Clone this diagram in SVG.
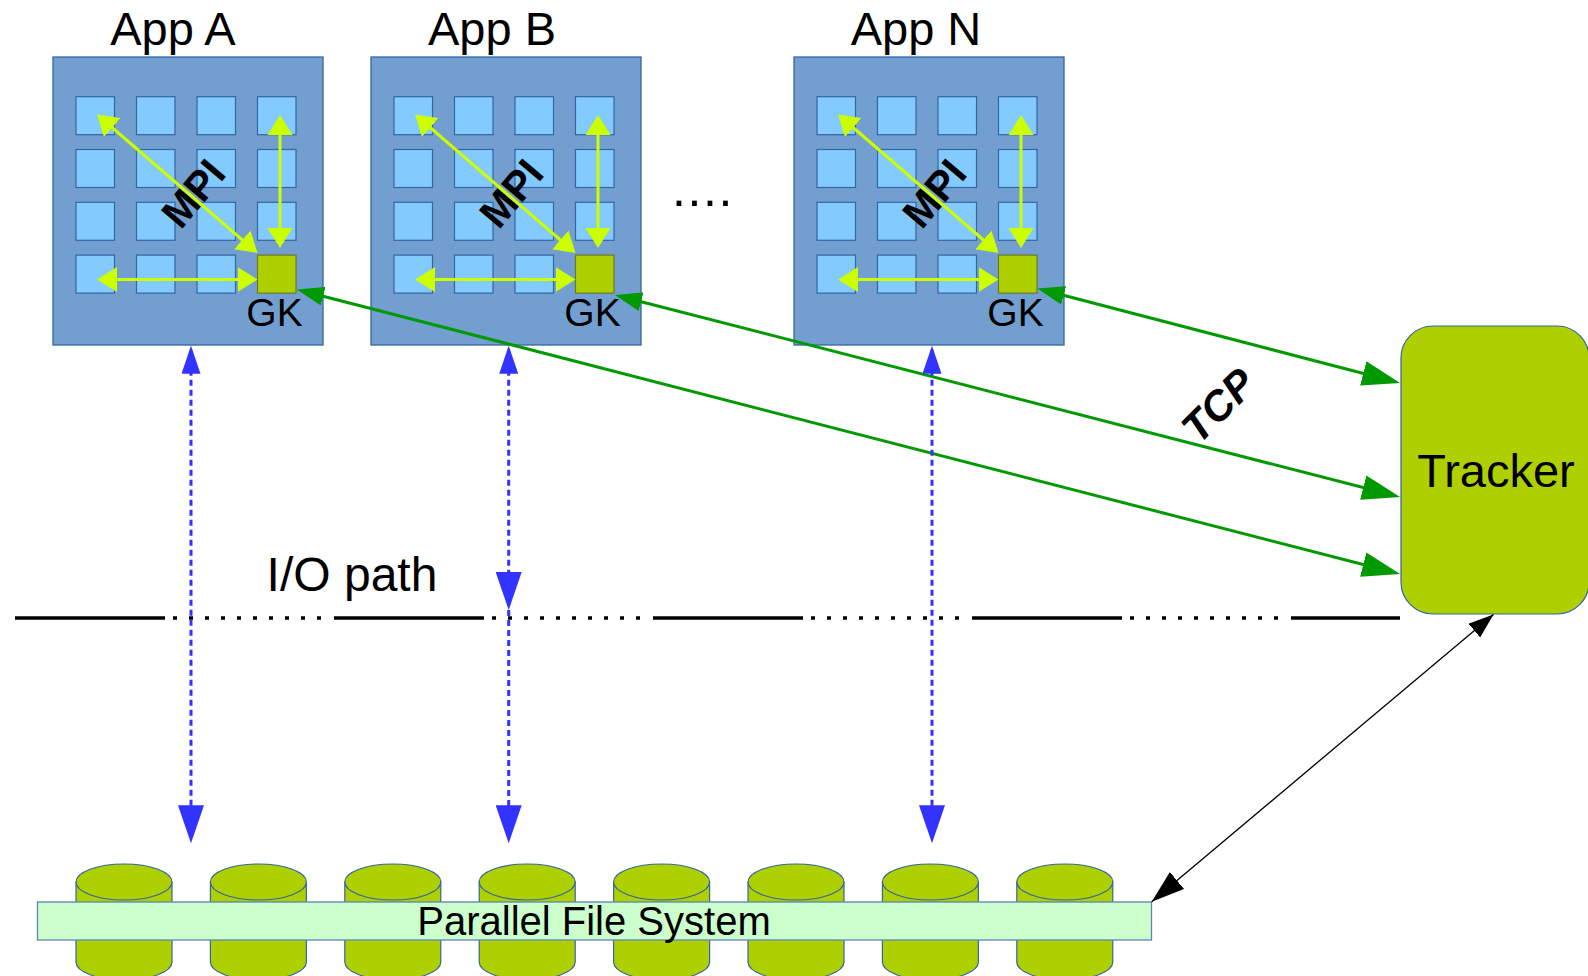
<svg xmlns="http://www.w3.org/2000/svg" width="1588" height="976" viewBox="0 0 1588 976">
  <style>
    .box { fill: #729fcf; stroke: #3465a4; stroke-width: 1.3; }
    .cell { fill: #83caff; stroke: #3465a4; stroke-width: 1.2; }
    .gk { fill: #afd000; stroke: #6a7a20; stroke-width: 1.2; }
    .mpi { fill: none; stroke: #ccff00; stroke-width: 3; }
    .tcp { fill: none; stroke: #009900; stroke-width: 3; }
    .io { fill: none; stroke: #3333ff; stroke-width: 3; stroke-dasharray: 6 4; }
    .ctl { fill: none; stroke: #000; stroke-width: 1.3; }
    .path-line { fill: none; stroke: #000; stroke-width: 3.3; stroke-dasharray: 150 8 4 12 4 12 4 12 4 12 4 12 4 12 4 12 4 12 4 12 4 13; }
    .disk { fill: #afd000; stroke: #3465a4; stroke-width: 1.2; }
    .pfs { fill: #ccffcc; stroke: #5b85b8; stroke-width: 1.3; }
    .tracker { fill: #afd000; stroke: #3465a4; stroke-width: 1.2; }
    text { font-family: "Liberation Sans", Arial, sans-serif; fill: #000; }
    .title { font-size: 47px; text-anchor: middle; }
    .gklabel { font-size: 39px; text-anchor: middle; }
    .mpilabel { font-size: 41px; font-weight: bold; text-anchor: middle; }
    .tcplabel { font-size: 42px; font-weight: bold; font-style: italic; text-anchor: middle; }
  </style>
  <defs>
    <marker id="yhead" markerUnits="userSpaceOnUse" markerWidth="20" markerHeight="25" viewBox="0 0 20 25" refX="17" refY="12.5" orient="auto-start-reverse">
      <path d="M0,0 L20,12.5 L0,25 Z" fill="#ccff00"/>
    </marker>
    <marker id="ghead-big" markerUnits="userSpaceOnUse" markerWidth="38" markerHeight="25" viewBox="0 0 38 25" refX="33" refY="12.5" orient="auto-start-reverse">
      <path d="M0,0 L38,12.5 L0,25 Z" fill="#009900"/>
    </marker>
    <marker id="ghead-small" markerUnits="userSpaceOnUse" markerWidth="27" markerHeight="19" viewBox="0 0 27 19" refX="22" refY="9.5" orient="auto-start-reverse">
      <path d="M0,0 L27,9.5 L0,19 Z" fill="#009900"/>
    </marker>
    <marker id="bhead-small" markerUnits="userSpaceOnUse" markerWidth="28" markerHeight="19" viewBox="0 0 28 19" refX="24" refY="9.5" orient="auto-start-reverse">
      <path d="M0,0 L28,9.5 L0,19 Z" fill="#3333ff"/>
    </marker>
    <marker id="bhead-big" markerUnits="userSpaceOnUse" markerWidth="38" markerHeight="26" viewBox="0 0 38 26" refX="34" refY="13" orient="auto-start-reverse">
      <path d="M0,0 L38,13 L0,26 Z" fill="#3333ff"/>
    </marker>
    <marker id="khead-big" markerUnits="userSpaceOnUse" markerWidth="33" markerHeight="22" viewBox="0 0 33 22" refX="33" refY="11" orient="auto-start-reverse">
      <path d="M0,0 L33,11 L0,22 Z" fill="#000"/>
    </marker>
    <marker id="khead-small" markerUnits="userSpaceOnUse" markerWidth="25" markerHeight="18" viewBox="0 0 25 18" refX="25" refY="9" orient="auto-start-reverse">
      <path d="M0,0 L25,9 L0,18 Z" fill="#000"/>
    </marker>
  </defs>

  <rect width="1588" height="976" fill="#fff"/>

  <!-- I/O path boundary -->
  <g id="io-path">
    <path class="path-line" d="M15,618 H1400"/>
    <text x="352" y="591" font-size="48" text-anchor="middle">I/O path</text>
  </g>

  <!-- Application A -->
  <g id="app-a" transform="translate(53,57)">
    <text class="title" x="120" y="-12">App A</text>
    <rect class="box" x="0" y="0" width="270" height="288"/>
    <rect class="cell" x="23" y="39.7" width="38.5" height="38"/>
    <rect class="cell" x="83.5" y="39.7" width="38.5" height="38"/>
    <rect class="cell" x="144" y="39.7" width="38.5" height="38"/>
    <rect class="cell" x="204.5" y="39.7" width="38.5" height="38"/>
    <rect class="cell" x="23" y="92.5" width="38.5" height="38"/>
    <rect class="cell" x="83.5" y="92.5" width="38.5" height="38"/>
    <rect class="cell" x="144" y="92.5" width="38.5" height="38"/>
    <rect class="cell" x="204.5" y="92.5" width="38.5" height="38"/>
    <rect class="cell" x="23" y="145.3" width="38.5" height="38"/>
    <rect class="cell" x="83.5" y="145.3" width="38.5" height="38"/>
    <rect class="cell" x="144" y="145.3" width="38.5" height="38"/>
    <rect class="cell" x="204.5" y="145.3" width="38.5" height="38"/>
    <rect class="cell" x="23" y="198.1" width="38.5" height="38"/>
    <rect class="cell" x="83.5" y="198.1" width="38.5" height="38"/>
    <rect class="cell" x="144" y="198.1" width="38.5" height="38"/>
    <rect class="gk" x="204.5" y="198.1" width="38.5" height="38"/>
    <text class="mpilabel" transform="translate(140,136) rotate(-50)" x="0" y="14.7">MPI</text>
    <path class="mpi" d="M46.3,59.5 L202.2,194" marker-start="url(#yhead)" marker-end="url(#yhead)"/>
    <path class="mpi" d="M227,61 V188" marker-start="url(#yhead)" marker-end="url(#yhead)"/>
    <path class="mpi" d="M47,222.5 H201.5" marker-start="url(#yhead)" marker-end="url(#yhead)"/>
    <text class="gklabel" x="221.5" y="268.5">GK</text>
  </g>

  <!-- Application B -->
  <g id="app-b" transform="translate(371,57)">
    <text class="title" x="121" y="-12">App B</text>
    <rect class="box" x="0" y="0" width="270" height="288"/>
    <rect class="cell" x="23" y="39.7" width="38.5" height="38"/>
    <rect class="cell" x="83.5" y="39.7" width="38.5" height="38"/>
    <rect class="cell" x="144" y="39.7" width="38.5" height="38"/>
    <rect class="cell" x="204.5" y="39.7" width="38.5" height="38"/>
    <rect class="cell" x="23" y="92.5" width="38.5" height="38"/>
    <rect class="cell" x="83.5" y="92.5" width="38.5" height="38"/>
    <rect class="cell" x="144" y="92.5" width="38.5" height="38"/>
    <rect class="cell" x="204.5" y="92.5" width="38.5" height="38"/>
    <rect class="cell" x="23" y="145.3" width="38.5" height="38"/>
    <rect class="cell" x="83.5" y="145.3" width="38.5" height="38"/>
    <rect class="cell" x="144" y="145.3" width="38.5" height="38"/>
    <rect class="cell" x="204.5" y="145.3" width="38.5" height="38"/>
    <rect class="cell" x="23" y="198.1" width="38.5" height="38"/>
    <rect class="cell" x="83.5" y="198.1" width="38.5" height="38"/>
    <rect class="cell" x="144" y="198.1" width="38.5" height="38"/>
    <rect class="gk" x="204.5" y="198.1" width="38.5" height="38"/>
    <text class="mpilabel" transform="translate(140,136) rotate(-50)" x="0" y="14.7">MPI</text>
    <path class="mpi" d="M46.3,59.5 L202.2,194" marker-start="url(#yhead)" marker-end="url(#yhead)"/>
    <path class="mpi" d="M227,61 V188" marker-start="url(#yhead)" marker-end="url(#yhead)"/>
    <path class="mpi" d="M47,222.5 H201.5" marker-start="url(#yhead)" marker-end="url(#yhead)"/>
    <text class="gklabel" x="221.5" y="268.5">GK</text>
  </g>

  <!-- ellipsis between applications -->
  <text id="more-apps" x="672" y="206" font-size="50" letter-spacing="1.6">....</text>

  <!-- Application N -->
  <g id="app-n" transform="translate(794,57)">
    <text class="title" x="122" y="-12">App N</text>
    <rect class="box" x="0" y="0" width="270" height="288"/>
    <rect class="cell" x="23" y="39.7" width="38.5" height="38"/>
    <rect class="cell" x="83.5" y="39.7" width="38.5" height="38"/>
    <rect class="cell" x="144" y="39.7" width="38.5" height="38"/>
    <rect class="cell" x="204.5" y="39.7" width="38.5" height="38"/>
    <rect class="cell" x="23" y="92.5" width="38.5" height="38"/>
    <rect class="cell" x="83.5" y="92.5" width="38.5" height="38"/>
    <rect class="cell" x="144" y="92.5" width="38.5" height="38"/>
    <rect class="cell" x="204.5" y="92.5" width="38.5" height="38"/>
    <rect class="cell" x="23" y="145.3" width="38.5" height="38"/>
    <rect class="cell" x="83.5" y="145.3" width="38.5" height="38"/>
    <rect class="cell" x="144" y="145.3" width="38.5" height="38"/>
    <rect class="cell" x="204.5" y="145.3" width="38.5" height="38"/>
    <rect class="cell" x="23" y="198.1" width="38.5" height="38"/>
    <rect class="cell" x="83.5" y="198.1" width="38.5" height="38"/>
    <rect class="cell" x="144" y="198.1" width="38.5" height="38"/>
    <rect class="gk" x="204.5" y="198.1" width="38.5" height="38"/>
    <text class="mpilabel" transform="translate(140,136) rotate(-50)" x="0" y="14.7">MPI</text>
    <path class="mpi" d="M46.3,59.5 L202.2,194" marker-start="url(#yhead)" marker-end="url(#yhead)"/>
    <path class="mpi" d="M227,61 V188" marker-start="url(#yhead)" marker-end="url(#yhead)"/>
    <path class="mpi" d="M47,222.5 H201.5" marker-start="url(#yhead)" marker-end="url(#yhead)"/>
    <text class="gklabel" x="221.5" y="268.5">GK</text>
  </g>

  <!-- Tracker -->
  <g id="tracker">
    <rect class="tracker" x="1401" y="326" width="188" height="288" rx="32" ry="32"/>
    <text x="1496" y="487" font-size="47" text-anchor="middle">Tracker</text>
  </g>

  <!-- Parallel file system: disks behind a shared bar -->
  <g id="pfs">
    <g transform="translate(76,0)"><path class="disk" d="M0,882 V962 A48,18 0 0 0 96,962 V882 Z"/><ellipse class="disk" cx="48" cy="882" rx="48" ry="18"/></g>
    <g transform="translate(210.4,0)"><path class="disk" d="M0,882 V962 A48,18 0 0 0 96,962 V882 Z"/><ellipse class="disk" cx="48" cy="882" rx="48" ry="18"/></g>
    <g transform="translate(344.8,0)"><path class="disk" d="M0,882 V962 A48,18 0 0 0 96,962 V882 Z"/><ellipse class="disk" cx="48" cy="882" rx="48" ry="18"/></g>
    <g transform="translate(479.2,0)"><path class="disk" d="M0,882 V962 A48,18 0 0 0 96,962 V882 Z"/><ellipse class="disk" cx="48" cy="882" rx="48" ry="18"/></g>
    <g transform="translate(613.6,0)"><path class="disk" d="M0,882 V962 A48,18 0 0 0 96,962 V882 Z"/><ellipse class="disk" cx="48" cy="882" rx="48" ry="18"/></g>
    <g transform="translate(748,0)"><path class="disk" d="M0,882 V962 A48,18 0 0 0 96,962 V882 Z"/><ellipse class="disk" cx="48" cy="882" rx="48" ry="18"/></g>
    <g transform="translate(882.4,0)"><path class="disk" d="M0,882 V962 A48,18 0 0 0 96,962 V882 Z"/><ellipse class="disk" cx="48" cy="882" rx="48" ry="18"/></g>
    <g transform="translate(1016.8,0)"><path class="disk" d="M0,882 V962 A48,18 0 0 0 96,962 V882 Z"/><ellipse class="disk" cx="48" cy="882" rx="48" ry="18"/></g>
    <rect class="pfs" x="37.5" y="902" width="1114" height="38"/>
    <text x="594" y="935" font-size="40" text-anchor="middle">Parallel File System</text>
  </g>

  <!-- Connectors -->
  <g id="connectors">
    <!-- TCP links between gatekeepers and the tracker -->
    <path class="tcp" d="M1042.3,289.8 L1395.2,381.7" marker-start="url(#ghead-small)" marker-end="url(#ghead-big)"/>
    <path class="tcp" d="M619.8,296.2 L1395.2,495.8" marker-start="url(#ghead-small)" marker-end="url(#ghead-big)"/>
    <path class="tcp" d="M301.8,290.7 L1395.2,572.8" marker-start="url(#ghead-small)" marker-end="url(#ghead-big)"/>
    <text class="tcplabel" transform="translate(1218,405) rotate(-45)" x="0" y="15">TCP</text>

    <!-- I/O traffic to the file system -->
    <path class="io" d="M191,349.7 V839.3" marker-start="url(#bhead-small)" marker-end="url(#bhead-big)"/>
    <path class="io" d="M508.7,349.7 V606" marker-start="url(#bhead-small)" marker-end="url(#bhead-big)"/>
    <path class="io" d="M508.7,610 V839.3" marker-end="url(#bhead-big)"/>
    <path class="io" d="M932,349.7 V839.3" marker-start="url(#bhead-small)" marker-end="url(#bhead-big)"/>

    <!-- tracker to file system -->
    <path class="ctl" d="M1493.5,614.5 L1151.7,901.7" marker-start="url(#khead-small)" marker-end="url(#khead-big)"/>
  </g>
</svg>
